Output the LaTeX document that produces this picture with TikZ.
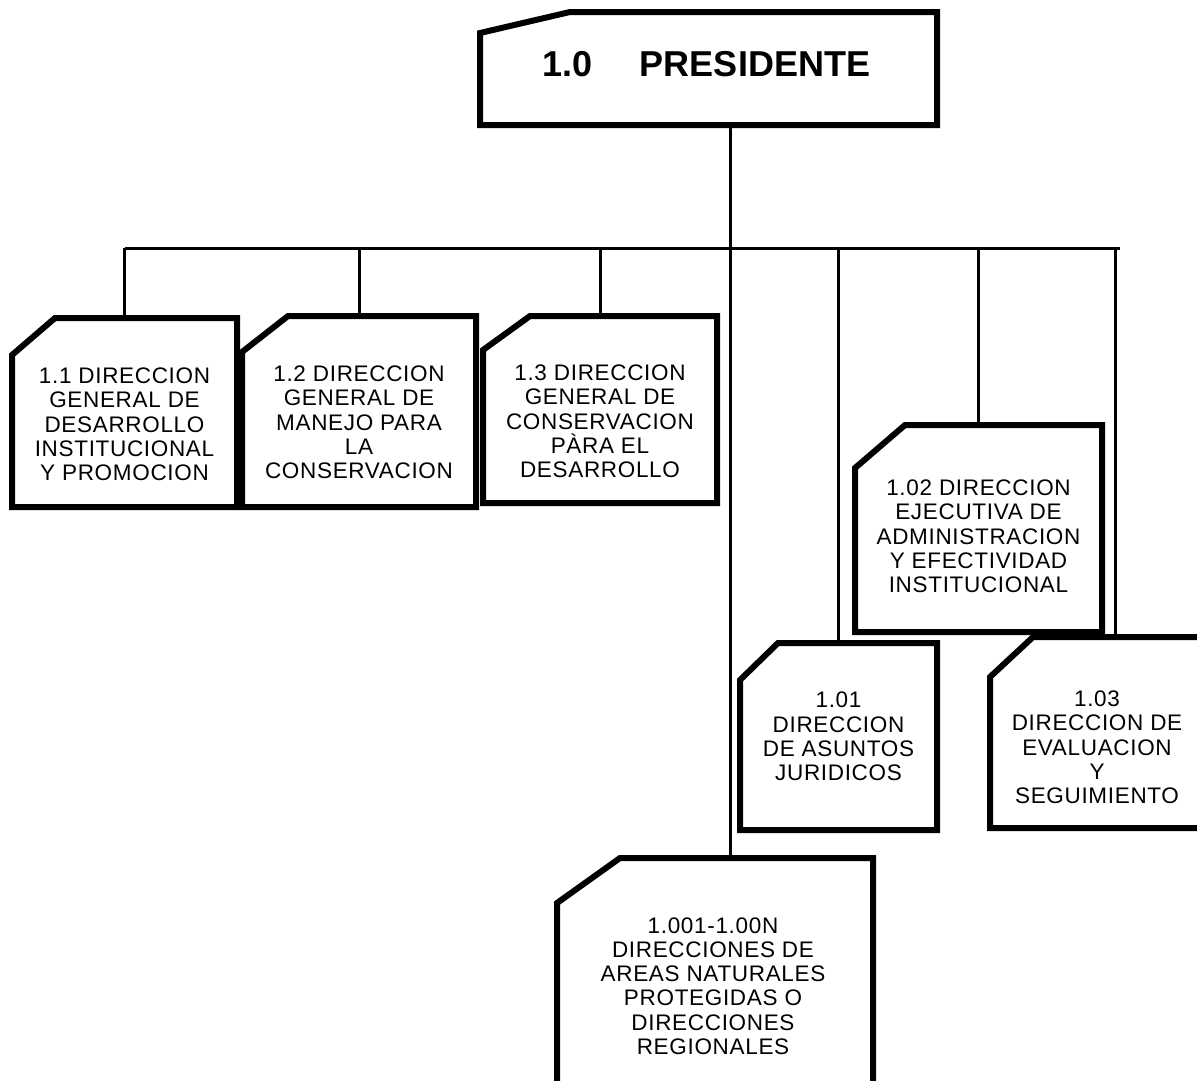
\documentclass[tikz,border=0pt]{standalone}
\usepackage{fontspec}
\setmainfont{Liberation Sans}
\newfontfamily\unitfont[LetterSpace=3]{Liberation Sans}
\usetikzlibrary{calc}
\tikzset{%
   unit/.style={
      rectangle,
      inner sep=0mm,
      outer sep=0mm
   },
   boxline/.style={
      line width=6pt,
      line join=miter
   },
   link/.style={
      line width=3pt
   },
   txt/.style={
      align=center,
      font=\unitfont\fontsize{22.5}{24.3}\selectfont
   },
   head/.style={
      font=\bfseries\fontsize{36}{40}\selectfont
   },
}
\newcommand\chamf[3]{%
  \draw[boxline] (#1.south west) -- ([yshift=-#3pt]#1.north west)
    -- ([xshift=#2pt]#1.north west) -- (#1.north east)
    -- (#1.south east) -- cycle;%
}

\begin{document}
\begin{tikzpicture}[x=1pt, y=-1pt]
  \useasboundingbox (0,0) rectangle (1197,1080);
  \fill[white] (0,0) rectangle (1197,1080);
  \clip (0,0) rectangle (1197,1080);

  \node[unit, minimum width=457pt, minimum height=113pt,
    label={[head, xshift=-2pt, yshift=4pt]center:1.0\hspace{47pt}PRESIDENTE}] (pres) at (708.5,68.5) {};

  \node[unit, minimum width=225pt, minimum height=189pt,
    label={[txt, yshift=-12pt]center:{1.1 DIRECCION\\GENERAL DE\\DESARROLLO\\INSTITUCIONAL\\Y PROMOCION}}] (d11) at (124.5,412.5) {};
  \node[unit, minimum width=234pt, minimum height=191pt,
    label={[txt, yshift=-11pt]center:{1.2 DIRECCION\\GENERAL DE\\MANEJO PARA\\LA\\CONSERVACION}}] (d12) at (359,411.5) {};
  \node[unit, minimum width=234pt, minimum height=187pt,
    label={[txt, yshift=-12pt]center:{1.3 DIRECCION\\GENERAL DE\\CONSERVACION\\PÀRA EL\\DESARROLLO}}] (d13) at (600,409.5) {};

  \node[unit, minimum width=247pt, minimum height=207pt,
    label={[txt, yshift=-8pt]center:{1.02 DIRECCION\\EJECUTIVA DE\\ADMINISTRACION\\Y EFECTIVIDAD\\INSTITUCIONAL}}] (d102) at (978.5,528.5) {};
  \node[unit, minimum width=197pt, minimum height=187pt,
    label={[txt]center:{1.01\\DIRECCION\\DE ASUNTOS\\JURIDICOS}}] (d101) at (838.5,736.5) {};
  \node[unit, minimum width=214pt, minimum height=191pt,
    label={[txt, yshift=-15pt]center:{1.03\\DIRECCION DE\\EVALUACION\\Y\\SEGUIMIENTO}}] (d103) at (1097,732.5) {};

  \node[unit, minimum width=316pt, minimum height=242pt,
    label={[txt, xshift=-2pt, yshift=-7pt]center:{1.001-1.00N\\DIRECCIONES DE\\AREAS NATURALES\\PROTEGIDAS O\\DIRECCIONES\\REGIONALES}}] (dreg) at (715,979) {};

  \coordinate (trunk) at (730,248);
  \coordinate (busR) at (1120,248);
  \draw[link] (trunk |- pres.south) -- (trunk |- dreg.north);
  \draw[link] (d11.north |- busR) -- (busR);
  \foreach \n in {d11,d12,d13,d101,d102}
    \draw[link] (\n.north |- busR) -- (\n.north);
  \draw[link] ([xshift=18pt]d103.north |- busR) -- ([xshift=18pt]d103.north);

  \chamf{pres}{90}{21}
  \chamf{d11}{43}{37}
  \chamf{d12}{46}{36}
  \chamf{d13}{47}{34}
  \chamf{d102}{50}{43}
  \chamf{d101}{38}{37}
  \chamf{d103}{43}{40}
  \chamf{dreg}{63}{45}
\end{tikzpicture}
\end{document}
